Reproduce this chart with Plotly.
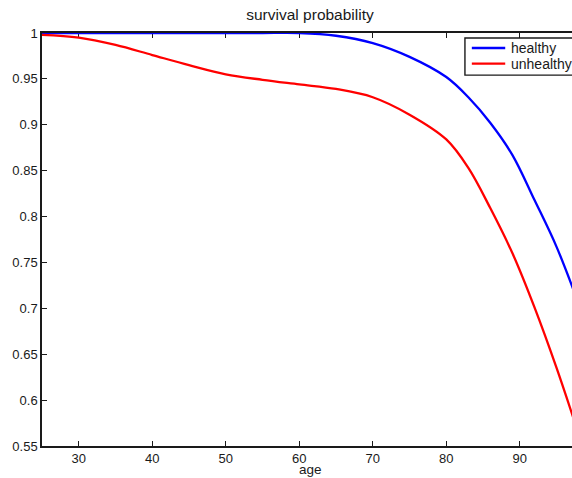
import plotly.graph_objects as go

ages = [25, 30, 35, 40, 45, 50, 55, 60, 65, 70, 75, 80, 83, 86, 89, 92, 95, 98]
healthy = [1.0, 1.0, 1.0, 1.0, 1.0, 1.0, 1.0, 1.0, 0.997, 0.989, 0.974, 0.952,
           0.930, 0.902, 0.867, 0.818, 0.767, 0.705]
unhealthy = [0.998, 0.995, 0.987, 0.976, 0.965, 0.955, 0.949, 0.944, 0.939, 0.930,
             0.911, 0.884, 0.853, 0.809, 0.760, 0.701, 0.635, 0.563]
series_names = ["healthy", "unhealthy"]
series_colors = ["#0000ff", "#ff0000"]
x_ticks = [30, 40, 50, 60, 70, 80, 90]
y_ticks = [0.55, 0.6, 0.65, 0.7, 0.75, 0.8, 0.85, 0.9, 0.95, 1.0]
y_tick_text = ["0.55", "0.6", "0.65", "0.7", "0.75", "0.8", "0.85", "0.9", "0.95", "1"]

font = "Liberation Sans, Arial, Helvetica, sans-serif"
ink = "#1a1a1a"

fig = go.Figure()
for vals, name, col in zip([healthy, unhealthy], series_names, series_colors):
    fig.add_trace(go.Scatter(x=ages, y=vals, mode="lines", name=name, showlegend=False,
                             line=dict(color=col, width=2.3, shape="spline")))

# MATLAB-style legend box (drawn in paper coordinates)
shapes = [dict(type="rect", xref="paper", yref="paper", x0=0.798, x1=1.02,
               y0=0.898, y1=0.988, line=dict(color=ink, width=1.4), fillcolor="white",
               layer="above")]
annotations = []
row_y = [0.9637, 0.926]
for name, col, yy in zip(series_names, series_colors, row_y):
    shapes.append(dict(type="line", xref="paper", yref="paper", x0=0.811, x1=0.874,
                       y0=yy, y1=yy, line=dict(color=col, width=2.3), layer="above"))
    annotations.append(dict(text=name, xref="paper", yref="paper", x=0.881, y=yy,
                            xanchor="left", yanchor="middle", showarrow=False,
                            font=dict(size=14, color=ink, family=font)))
annotations.append(dict(text="age", xref="paper", yref="paper", x=0.5057, y=-0.058,
                        xanchor="center", yanchor="middle", showarrow=False,
                        font=dict(size=13.5, color=ink, family=font)))

fig.update_layout(
    width=572, height=478,
    margin=dict(l=42, r=0, t=33, b=32),
    paper_bgcolor="white", plot_bgcolor="white",
    font=dict(family=font, size=13, color=ink),
    title=dict(text="survival probability", x=310 / 572, xanchor="center",
               y=1 - 15 / 478, yanchor="middle", font=dict(size=15.5, color=ink)),
    showlegend=False,
    shapes=shapes,
    annotations=annotations,
    xaxis=dict(range=[25, 97.1], tickvals=x_ticks, ticks="inside", ticklen=5,
               tickcolor=ink, showline=True, linecolor=ink, linewidth=1.5,
               mirror="ticks", showgrid=False, zeroline=False, layer="below traces"),
    yaxis=dict(range=[0.55, 1.0], tickvals=y_ticks, ticktext=y_tick_text,
               ticks="inside", ticklen=5, tickcolor=ink,
               showline=True, linecolor=ink, linewidth=1.5,
               showgrid=False, zeroline=False, layer="below traces"),
)

fig.write_html("out.html")
